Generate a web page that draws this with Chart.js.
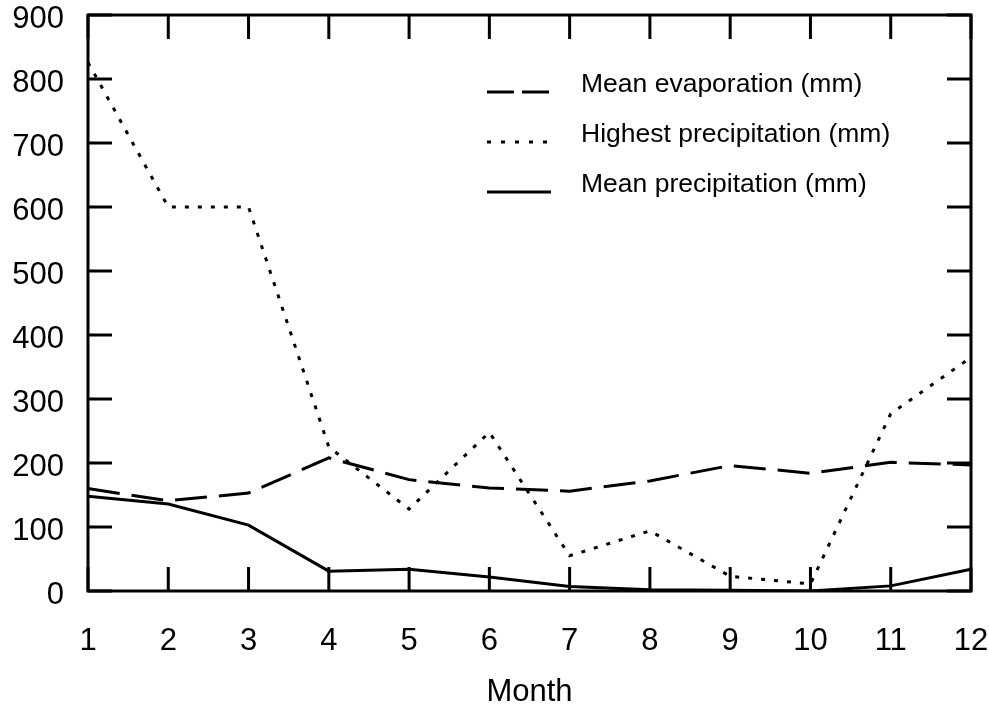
<!DOCTYPE html>
<html>
<head>
<meta charset="utf-8">
<script src="https://cdn.jsdelivr.net/npm/chart.js@4.4.0/dist/chart.umd.min.js"></script>
<style>
  html, body { margin: 0; padding: 0; background: #fff; }
  canvas { display: block; }
</style>
</head>
<body>
<canvas id="chart" width="989" height="708"></canvas>
<script>
// === Datos ===
const months = ['1', '2', '3', '4', '5', '6', '7', '8', '9', '10', '11', '12'];
const meanEvaporation = [160, 141, 153, 208, 174, 161, 156, 172, 196, 184, 201, 197];
const highestPrecipitation = [826, 600, 600, 225, 128, 248, 55, 94, 23, 11, 277, 365];
const meanPrecipitation = [148, 136, 103, 31, 34, 22, 7, 2, 1, 0, 8, 34];
const seriesLabels = ['Mean evaporation (mm)', 'Highest precipitation (mm)', 'Mean precipitation (mm)'];
const yMin = 0, yMax = 900, yStep = 100;
const xTitle = 'Month';

const FONT = '"Liberation Sans", Arial, Helvetica, sans-serif';

// === Marco y marcas hacia dentro en los cuatro lados ===
const frameTicks = {
  id: 'frameTicks',
  afterDatasetsDraw(chart) {
    const { ctx, chartArea: a, scales: { x, y } } = chart;
    ctx.save();
    ctx.strokeStyle = '#000';
    ctx.lineWidth = 3;
    ctx.strokeRect(a.left, a.top, a.right - a.left, a.bottom - a.top);
    ctx.beginPath();
    x.ticks.forEach((t, i) => {
      const px = x.getPixelForTick(i);
      ctx.moveTo(px, a.bottom); ctx.lineTo(px, a.bottom - 24);
      ctx.moveTo(px, a.top); ctx.lineTo(px, a.top + 24);
    });
    y.ticks.forEach((t, i) => {
      const py = y.getPixelForTick(i);
      ctx.moveTo(a.left, py); ctx.lineTo(a.left + 24, py);
      ctx.moveTo(a.right, py); ctx.lineTo(a.right - 24, py);
    });
    ctx.stroke();
    ctx.restore();
  }
};

// === Leyenda dentro del área del gráfico ===
const insideLegend = {
  id: 'insideLegend',
  afterDraw(chart) {
    const { ctx } = chart;
    const rows = [92, 142, 192];
    ctx.save();
    chart.data.datasets.forEach((ds, i) => {
      const yy = rows[i];
      ctx.strokeStyle = '#000';
      ctx.lineWidth = ds.borderWidth;
      ctx.setLineDash(ds.legendDash || []);
      ctx.beginPath();
      ctx.moveTo(487, yy);
      ctx.lineTo(551, yy);
      ctx.stroke();
      ctx.setLineDash([]);
      ctx.save();
      ctx.translate(581, yy);
      ctx.scale(1.06, 1);
      ctx.fillStyle = '#000';
      ctx.font = '25px ' + FONT;
      ctx.textBaseline = 'alphabetic';
      ctx.fillText(ds.label, 0, 0);
      ctx.restore();
    });
    ctx.restore();
  }
};

new Chart(document.getElementById('chart').getContext('2d'), {
  type: 'line',
  data: {
    labels: months,
    datasets: [
      { label: seriesLabels[0], data: meanEvaporation, borderColor: '#000', borderWidth: 3,
        borderDash: [32, 12], legendDash: [27, 8], pointRadius: 0, tension: 0, fill: false },
      { label: seriesLabels[1], data: highestPrecipitation, borderColor: '#000', borderWidth: 3,
        borderDash: [4, 9], legendDash: [4, 10], pointRadius: 0, tension: 0, fill: false },
      { label: seriesLabels[2], data: meanPrecipitation, borderColor: '#000', borderWidth: 3,
        borderDash: [], legendDash: [], pointRadius: 0, tension: 0, fill: false }
    ]
  },
  options: {
    responsive: false,
    animation: false,
    devicePixelRatio: 1,
    layout: { padding: { top: 15, right: 18, left: 0, bottom: 0 } },
    plugins: { legend: { display: false }, tooltip: { enabled: false } },
    scales: {
      x: {
        offset: false,
        grid: { display: false, drawTicks: false },
        border: { display: false },
        ticks: { color: '#000', font: { family: FONT, size: 31 }, padding: 32, maxRotation: 0 },
        title: { display: true, text: xTitle, color: '#000', font: { family: FONT, size: 31, lineHeight: 1 }, padding: 0 },
        afterFit: s => { s.height = 117; s.paddingLeft = 0; s.paddingRight = 0; }
      },
      y: {
        min: yMin, max: yMax,
        grid: { display: false, drawTicks: false },
        border: { display: false },
        ticks: { stepSize: yStep, color: '#000', font: { family: FONT, size: 31 }, padding: 24, labelOffset: 4 },
        afterFit: s => { s.width = 88; s.paddingTop = 0; s.paddingBottom = 0; }
      }
    }
  },
  plugins: [frameTicks, insideLegend]
});
</script>
</body>
</html>
